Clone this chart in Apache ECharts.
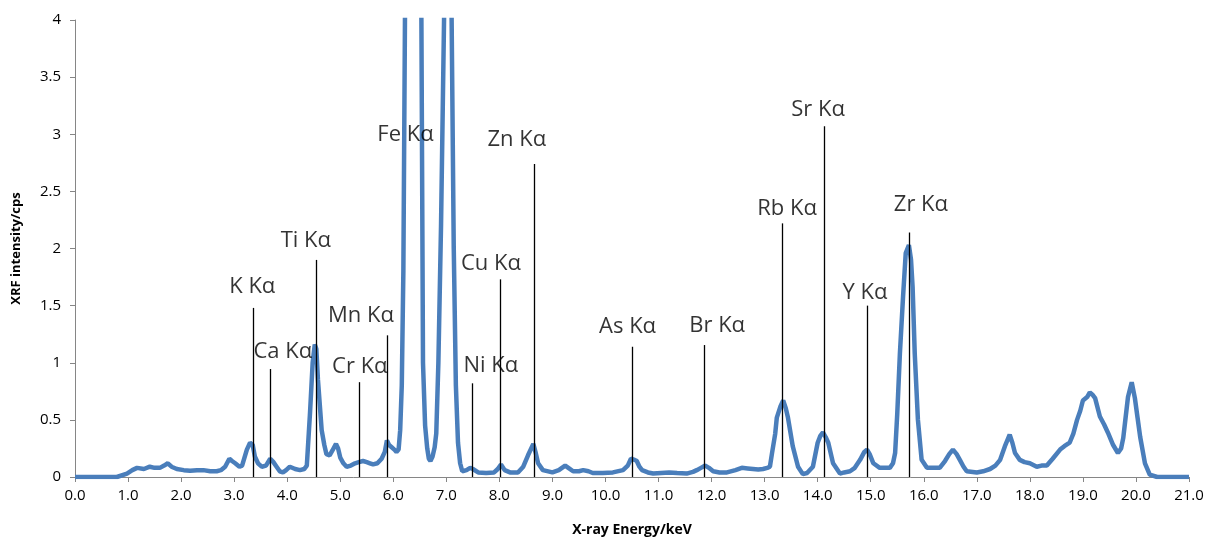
<!DOCTYPE html>
<html>
<head>
<meta charset="utf-8">
<script src="https://cdn.jsdelivr.net/npm/echarts@6.0.0/dist/echarts.min.js"></script>
<style>
  html, body { margin: 0; padding: 0; background: #fff; }
  #chart { width: 1206px; height: 539px; }
</style>
</head>
<body>
<div id="chart"></div>
<script>
// spectrum (keV, cps)
const energy = [
  0.0, 0.5, 0.79, 0.98, 1.08, 1.17, 1.3, 1.41, 1.5, 1.6, 1.68, 1.75, 1.82, 1.92, 2.05, 2.17, 2.3, 2.42, 2.55, 2.67,
  2.75, 2.83, 2.91, 2.96, 3.02, 3.1, 3.15, 3.24, 3.3, 3.35, 3.39, 3.45, 3.52, 3.6, 3.68, 3.74, 3.8, 3.86, 3.92, 3.98,
  4.05, 4.15, 4.24, 4.32, 4.37, 4.43, 4.48, 4.52, 4.55, 4.58, 4.65, 4.7, 4.74, 4.8, 4.85, 4.92, 4.96, 5.0, 5.06, 5.12,
  5.2, 5.28, 5.35, 5.43, 5.5, 5.56, 5.62, 5.7, 5.78, 5.84, 5.88, 5.92, 5.97, 6.02, 6.06, 6.1, 6.13, 6.16, 6.19, 6.22,
  6.3, 6.38, 6.46, 6.53, 6.56, 6.6, 6.64, 6.67, 6.7, 6.74, 6.78, 6.81, 6.85, 6.9, 6.96, 7.02, 7.05, 7.08, 7.1, 7.14,
  7.18, 7.22, 7.26, 7.3, 7.38, 7.45, 7.5, 7.6, 7.75, 7.9, 7.97, 8.03, 8.1, 8.2, 8.35, 8.45, 8.54, 8.64, 8.68, 8.73,
  8.82, 9.0, 9.12, 9.24, 9.3, 9.39, 9.5, 9.58, 9.68, 9.76, 9.95, 10.14, 10.33, 10.42, 10.48, 10.55, 10.59, 10.64, 10.69, 10.8,
  10.9, 11.05, 11.2, 11.35, 11.53, 11.65, 11.72, 11.8, 11.88, 11.95, 12.03, 12.15, 12.29, 12.45, 12.57, 12.68, 12.78, 12.88, 12.97, 13.05,
  13.1, 13.14, 13.2, 13.23, 13.3, 13.35, 13.4, 13.44, 13.53, 13.63, 13.72, 13.8, 13.91, 14.0, 14.05, 14.1, 14.15, 14.2, 14.29, 14.42,
  14.5, 14.61, 14.7, 14.8, 14.88, 14.93, 14.98, 15.05, 15.17, 15.26, 15.36, 15.42, 15.46, 15.5, 15.55, 15.61, 15.66, 15.72, 15.76, 15.79,
  15.83, 15.89, 15.96, 16.06, 16.2, 16.3, 16.4, 16.48, 16.55, 16.62, 16.68, 16.75, 16.81, 17.0, 17.12, 17.25, 17.35, 17.44, 17.53, 17.62,
  17.67, 17.72, 17.81, 17.9, 18.0, 18.13, 18.22, 18.32, 18.43, 18.57, 18.65, 18.75, 18.82, 18.89, 18.95, 19.0, 19.08, 19.13, 19.18, 19.23,
  19.32, 19.4, 19.47, 19.57, 19.66, 19.72, 19.76, 19.8, 19.85, 19.92, 19.98, 20.03, 20.08, 20.17, 20.26, 20.4, 21.0
];
const intensity = [
  0, 0, 0, 0.03, 0.06, 0.08, 0.07, 0.09, 0.08, 0.08, 0.10, 0.12, 0.09, 0.07, 0.06, 0.055, 0.06, 0.06, 0.05, 0.05,
  0.06, 0.09, 0.16, 0.14, 0.12, 0.09, 0.10, 0.24, 0.30, 0.28, 0.18, 0.12, 0.09, 0.10, 0.16, 0.13, 0.09, 0.05, 0.04, 0.06,
  0.09, 0.07, 0.06, 0.07, 0.10, 0.56, 1.0, 1.16, 1.12, 0.85, 0.41, 0.28, 0.20, 0.19, 0.23, 0.29, 0.25, 0.17, 0.12, 0.09,
  0.10, 0.12, 0.13, 0.14, 0.13, 0.12, 0.11, 0.12, 0.16, 0.22, 0.32, 0.28, 0.26, 0.24, 0.22, 0.24, 0.41, 0.8, 1.8, 4.0,
  8, 10, 8, 4.0, 1.0, 0.45, 0.25, 0.16, 0.14, 0.18, 0.26, 0.38, 1.0, 2.2, 4.1, 7, 8, 6, 4.0, 2.0,
  0.8, 0.3, 0.12, 0.05, 0.06, 0.08, 0.07, 0.04, 0.035, 0.04, 0.07, 0.11, 0.06, 0.04, 0.04, 0.09, 0.19, 0.29, 0.22, 0.12,
  0.06, 0.04, 0.06, 0.10, 0.08, 0.05, 0.05, 0.06, 0.05, 0.035, 0.035, 0.04, 0.06, 0.10, 0.16, 0.15, 0.14, 0.09, 0.06, 0.04,
  0.03, 0.035, 0.04, 0.035, 0.03, 0.045, 0.06, 0.08, 0.10, 0.08, 0.05, 0.04, 0.04, 0.06, 0.08, 0.075, 0.07, 0.065, 0.07, 0.08,
  0.09, 0.21, 0.38, 0.52, 0.62, 0.67, 0.60, 0.52, 0.27, 0.09, 0.025, 0.035, 0.09, 0.30, 0.36, 0.39, 0.35, 0.30, 0.12, 0.03,
  0.04, 0.05, 0.08, 0.15, 0.22, 0.24, 0.20, 0.12, 0.08, 0.08, 0.08, 0.12, 0.21, 0.55, 1.08, 1.58, 1.96, 2.03, 1.9, 1.66,
  1.08, 0.5, 0.15, 0.08, 0.08, 0.08, 0.14, 0.20, 0.24, 0.20, 0.15, 0.09, 0.05, 0.04, 0.05, 0.07, 0.10, 0.15, 0.27, 0.37,
  0.30, 0.21, 0.15, 0.13, 0.12, 0.09, 0.10, 0.10, 0.16, 0.24, 0.27, 0.30, 0.38, 0.50, 0.58, 0.67, 0.70, 0.74, 0.72, 0.69,
  0.53, 0.46, 0.39, 0.28, 0.21, 0.25, 0.34, 0.50, 0.70, 0.83, 0.69, 0.52, 0.35, 0.12, 0.02, 0, 0
];

// element lines: name, energy (keV), height of the marker line (cps)
const peakNames = ["K Kα", "Ca Kα", "Ti Kα", "Cr Kα", "Mn Kα", "Fe Kα", "Ni Kα", "Cu Kα", "Zn Kα",
  "As Kα", "Br Kα", "Rb Kα", "Sr Kα", "Y Kα", "Zr Kα"];
const peakEnergy = [3.36, 3.69, 4.54, 5.35, 5.88, 6.4, 7.48, 8.01, 8.65, 10.51, 11.86, 13.33, 14.12, 14.93, 15.72];
const lineTop = [1.48, 0.945, 1.9, 0.83, 1.24, 2.82, 0.82, 1.73, 2.74, 1.14, 1.155, 2.22, 3.07, 1.5, 2.14];

// label nudges in px (dx, dy from the top of each marker line)
const labelOffset = [[-1, -21], [12, -17], [-10, -19], [1, -15], [-26, -20], [-9, -20], [19, -18], [-9, -16],
  [-17, -24], [-5, -20], [13, -19], [5, -15], [-6, -17], [-2, -13], [12, -28]];

const font = "'Open Sans', 'Noto Sans', sans-serif";
const chart = echarts.init(document.getElementById("chart"));

chart.setOption({
  animation: false,
  grid: { left: 75, right: 17, top: 20, bottom: 62, containLabel: false, outerBoundsMode: "none" },
  xAxis: {
    type: "value",
    min: 0,
    max: 21,
    interval: 1,
    name: "X-ray Energy/keV",
    nameLocation: "middle",
    nameGap: 46,
    nameTextStyle: { fontFamily: font, fontWeight: "bold", fontSize: 14, color: "#000" },
    axisLine: { lineStyle: { color: "#868686", width: 1 } },
    axisTick: { length: 5, lineStyle: { color: "#868686" } },
    axisLabel: {
      margin: 11,
      fontFamily: font,
      fontSize: 15,
      color: "#000",
      formatter: (v) => v.toFixed(1),
    },
    splitLine: { show: false },
  },
  yAxis: {
    type: "value",
    min: 0,
    max: 4,
    interval: 0.5,
    name: "XRF intensity/cps",
    nameLocation: "middle",
    nameGap: 52,
    nameTextStyle: { fontFamily: font, fontWeight: "bold", fontSize: 13, color: "#000" },
    axisLine: { show: true, lineStyle: { color: "#868686", width: 1 } },
    axisTick: { show: true, length: 5, lineStyle: { color: "#868686" } },
    axisLabel: { margin: 14, fontFamily: font, fontSize: 15, color: "#000" },
    splitLine: { show: false },
  },
  series: [
    {
      name: "spectrum",
      type: "line",
      data: energy.map((e, i) => [e, intensity[i]]),
      showSymbol: false,
      clip: true,
      lineStyle: { color: "#4a7ebb", width: 4.5 },
      z: 2,
      markLine: {
        silent: true,
        symbol: "none",
        label: { show: false },
        lineStyle: { color: "#000", width: 1.3, type: "solid" },
        data: peakNames
          .map((n, i) => [{ coord: [peakEnergy[i], 0] }, { coord: [peakEnergy[i], lineTop[i]] }])
          .filter((d, i) => peakNames[i] !== "Fe Kα"),
      },
    },
    {
      name: "labels",
      type: "scatter",
      symbolSize: 0,
      silent: true,
      z: 5,
      data: peakNames.map((n, i) => ({
        name: n,
        value: [peakEnergy[i], lineTop[i]],
        label: {
          show: true,
          position: "inside",
          offset: labelOffset[i],
          formatter: "{b}",
          fontFamily: font,
          fontSize: 22,
          color: "#000",
        },
      })),
    },
  ],
});
</script>
</body>
</html>
